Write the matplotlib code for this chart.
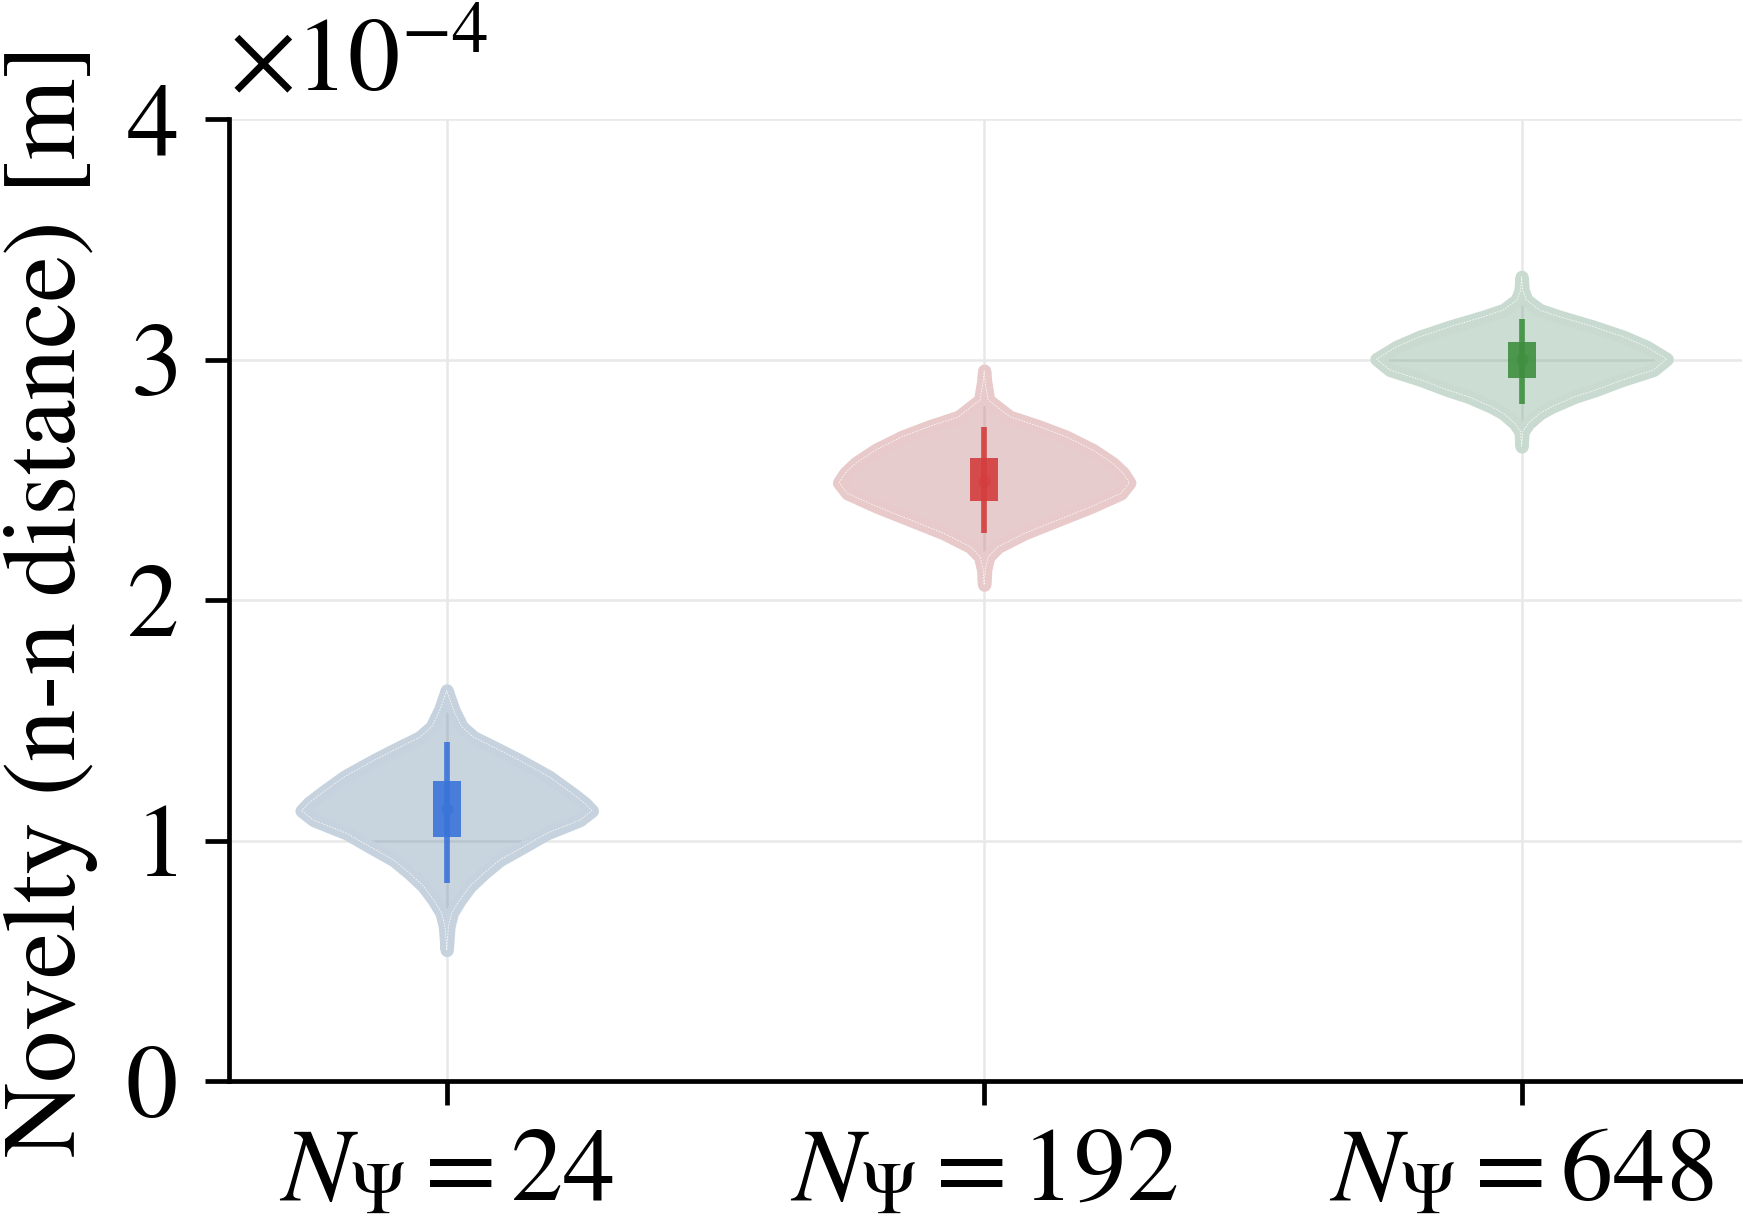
import numpy as np
import matplotlib
matplotlib.use("Agg")
import matplotlib.pyplot as plt
from matplotlib.ticker import ScalarFormatter, FixedLocator
from matplotlib.patches import PathPatch
from matplotlib.colors import to_rgba
from matplotlib.transforms import ScaledTranslation

plt.rcParams['font.family'] = ['STIXGeneral', 'Liberation Serif', 'DejaVu Serif']
plt.rcParams['mathtext.fontset'] = 'stix'

SCALE = 1e-4
categories = [r'$N_\Psi = 24$', r'$N_\Psi = 192$', r'$N_\Psi = 648$']

# violin outlines (values in units of 1e-4 m, relative density)
blue_y = [1.625, 1.600, 1.544, 1.474, 1.430, 1.389, 1.336, 1.267, 1.198, 1.156, 1.125,
          1.086, 1.031, 0.976, 0.920, 0.865, 0.810, 0.754, 0.699, 0.643, 0.546]
blue_d = [0, 2, 6.7, 15, 27, 47, 72, 102, 125, 138, 145,
          133, 100, 77, 53, 37, 23, 13, 5, 1.7, 0]
red_y = [2.955, 2.909, 2.833, 2.763, 2.722, 2.680, 2.625, 2.570, 2.528, 2.489, 2.445,
         2.389, 2.334, 2.279, 2.223, 2.181, 2.126, 2.071, 2.065]
red_d = [0, 3, 12, 77, 167, 247, 327, 387, 419, 437, 412,
         322, 222, 122, 42, 12, 3, 1, 0]
green_y = [3.345, 3.290, 3.249, 3.207, 3.179, 3.138, 3.096, 3.054, 3.003, 2.958, 2.916,
           2.874, 2.847, 2.805, 2.778, 2.736, 2.701, 2.640]
green_d = [0, 3, 14, 54, 114, 214, 304, 374, 434, 394, 300,
           220, 160, 90, 55, 20, 3, 0]

# inner box statistics (units of 1e-4 m)
q1 = [1.017, 2.413, 2.926]
q3 = [1.250, 2.590, 3.074]
med = [1.131, 2.497, 3.003]
whislo = [0.823, 2.281, 2.815]
whishi = [1.412, 2.722, 3.168]

body_colors = ['#6287a4', '#bd6d70', '#6d9e81']
edge_colors = ['#c6d2dd', '#e8cacb', '#c9dbd0']
box_colors = ['#3a74d9', '#d43d3d', '#3f8f3f']

profiles = [(blue_y, blue_d), (red_y, red_d), (green_y, green_d)]
positions = [0, 1, 2]

fig = plt.figure(figsize=(17.43, 12.19), dpi=100)
ax = fig.add_axes([0.1311, 0.1130, 0.9994 - 0.1311, 0.9021 - 0.1130])

vpstats = []
for (ys, ds), m, lo, hi in zip(profiles, med, whislo, whishi):
    ys = np.array(ys) * SCALE
    ds = np.array(ds, dtype=float)
    order = np.argsort(ys)
    vpstats.append(dict(coords=ys[order], vals=ds[order], mean=m * SCALE,
                        median=m * SCALE, min=ys.min(), max=ys.max()))

parts = ax.violin(vpstats, positions=positions, widths=0.54,
                  showmeans=False, showextrema=False, showmedians=False)
for body, c, ec in zip(parts['bodies'], body_colors, edge_colors):
    body.set_alpha(None)
    body.set_facecolor(to_rgba(c, 0.35))
    body.set_edgecolor(to_rgba(ec, 1.0))
    body.set_linewidth(9.6)
    body.set_joinstyle('round')
    body.set_capstyle('round')
    body.set_zorder(2)
    for p in body.get_paths():
        ax.add_patch(PathPatch(p, facecolor='none', edgecolor='white',
                               linewidth=0.6, linestyle=(0, (2, 1.5)),
                               alpha=0.85, zorder=3))

for x, lo, hi, a, b, m, c in zip(positions, whislo, whishi, q1, q3, med, box_colors):
    ax.vlines(x, lo * SCALE, hi * SCALE, color=c, linewidth=4.1, alpha=0.9, zorder=4)
    ax.bar(x, (b - a) * SCALE, bottom=a * SCALE, width=0.052, color=c,
           alpha=0.9, zorder=5, linewidth=0)
    ax.plot([x], [m * SCALE], 'o', color=c, markersize=9, alpha=0.6,
            markeredgewidth=0, zorder=6)

FS = 75
ax.set_xlim(-0.406, 2.41)
ax.set_ylim(0, 4 * SCALE)
ax.xaxis.set_major_locator(FixedLocator(positions))
ax.set_xticklabels(categories)
ax.yaxis.set_major_locator(FixedLocator(np.arange(0, 5) * SCALE))
fmt = ScalarFormatter(useMathText=True)
fmt.set_powerlimits((0, 0))
ax.yaxis.set_major_formatter(fmt)
off = ax.yaxis.get_offset_text()
off.set_fontsize(FS)
off.set_transform(off.get_transform() + ScaledTranslation(0, 0.25, fig.dpi_scale_trans))

ax.set_ylabel('Novelty (n-n distance) [m]', fontsize=FS, labelpad=20)
ax.tick_params(axis='both', labelsize=FS, length=17, width=3.4, color='black')
ax.tick_params(axis='y', pad=20)
ax.tick_params(axis='x', pad=18)

ax.grid(True, color='#e8e8e8', linewidth=1.8)
ax.set_axisbelow(True)
for s in ['top', 'right']:
    ax.spines[s].set_visible(False)
for s in ['left', 'bottom']:
    ax.spines[s].set_linewidth(3.4)
    ax.spines[s].set_color('black')

fig.savefig('out.png', dpi=100)
